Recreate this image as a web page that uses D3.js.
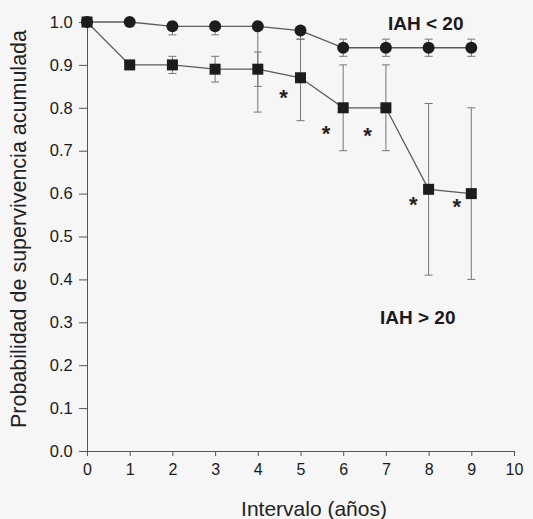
<!DOCTYPE html>
<html>
<head>
<meta charset="utf-8">
<script src="https://cdn.jsdelivr.net/npm/d3@7"></script>
<style>
  body { margin: 0; background: #f6f6f6; }
  svg { display: block; font-family: "Liberation Sans", Arial, sans-serif; }
</style>
</head>
<body>
<div id="chart"></div>
<script>
// intervals (years)
const years = [0, 1, 2, 3, 4, 5, 6, 7, 8, 9];

// IAH < 20 (circles)
const lowVals = [1.0, 1.0, 0.99, 0.99, 0.99, 0.98, 0.94, 0.94, 0.94, 0.94];
const lowLo   = [1.0, 1.0, 0.97, 0.97, 0.79, 0.96, 0.92, 0.92, 0.92, 0.92];
const lowHi   = [1.0, 1.0, 1.0, 1.0, 0.99, 0.98, 0.96, 0.96, 0.96, 0.96];

// IAH > 20 (squares)
const highVals = [1.0, 0.90, 0.90, 0.89, 0.89, 0.87, 0.80, 0.80, 0.61, 0.60];
const highLo   = [1.0, 0.90, 0.88, 0.86, 0.85, 0.77, 0.70, 0.70, 0.41, 0.40];
const highHi   = [1.0, 0.90, 0.92, 0.92, 0.93, 0.96, 0.90, 0.90, 0.81, 0.80];

// significance marks
const starX = [4.6, 5.6, 6.57, 7.64, 8.66];
const starY = [0.834, 0.75, 0.746, 0.584, 0.58];

const xTicks = [0, 1, 2, 3, 4, 5, 6, 7, 8, 9, 10];
const yTicks = [0, 0.1, 0.2, 0.3, 0.4, 0.5, 0.6, 0.7, 0.8, 0.9, 1.0];

const margin = {top: 22, right: 19, bottom: 68, left: 87};
const W = 533, H = 519;
const width = W - margin.left - margin.right;
const height = H - margin.top - margin.bottom;

const svg = d3.select("#chart").append("svg")
    .attr("width", W)
    .attr("height", H);

svg.append("rect").attr("width", W).attr("height", H).attr("fill", "#f6f6f6");

const g = svg.append("g")
    .attr("transform", `translate(${margin.left}, ${margin.top})`);

const x = d3.scaleLinear().domain([0, 10]).range([0, width]);
const y = d3.scaleLinear().domain([0, 1]).range([height, 0]);

// axes
const xAxis = d3.axisBottom(x).tickValues(xTicks).tickFormat(d3.format("d")).tickSize(5).tickSizeOuter(0);
const yAxis = d3.axisLeft(y).tickValues(yTicks).tickFormat(d3.format(".1f")).tickSize(8).tickSizeOuter(0);

const gx = g.append("g")
    .attr("class", "x axis")
    .attr("transform", `translate(0, ${height})`)
    .call(xAxis);
gx.select(".domain").attr("d", `M-8,0.5H${width}`);
gx.selectAll("text").attr("font-size", 16).attr("dy", "1.0em").attr("fill", "#1a1a1a");

const gy = g.append("g")
    .attr("class", "y axis")
    .call(yAxis);
gy.selectAll("text").attr("font-size", 16.5).attr("dx", "-0.2em").attr("fill", "#1a1a1a");

g.selectAll(".axis path, .axis line").attr("stroke", "#555").attr("stroke-width", 1);

// error bars
function errorBars(lo, hi, cls) {
    const data = years.map((d, i) => ({x: d, lo: lo[i], hi: hi[i]})).filter(d => d.hi > d.lo);
    const eb = g.append("g").attr("class", cls)
        .attr("stroke", "#777").attr("stroke-width", 1).attr("fill", "none");
    eb.selectAll("line.v").data(data).enter().append("line")
        .attr("class", "v")
        .attr("x1", d => x(d.x)).attr("x2", d => x(d.x))
        .attr("y1", d => y(d.lo)).attr("y2", d => y(d.hi));
    eb.selectAll("line.lo").data(data).enter().append("line")
        .attr("x1", d => x(d.x) - 4).attr("x2", d => x(d.x) + 4)
        .attr("y1", d => y(d.lo)).attr("y2", d => y(d.lo));
    eb.selectAll("line.hi").data(data).enter().append("line")
        .attr("x1", d => x(d.x) - 4).attr("x2", d => x(d.x) + 4)
        .attr("y1", d => y(d.hi)).attr("y2", d => y(d.hi));
}
errorBars(highLo, highHi, "err-high");
errorBars(lowLo, lowHi, "err-low");

// lines
const line = d3.line().x(d => x(d[0])).y(d => y(d[1]));
[lowVals, highVals].forEach(vals => {
    g.append("path")
        .datum(years.map((d, i) => [d, vals[i]]))
        .attr("d", line)
        .attr("fill", "none")
        .attr("stroke", "#5a5a5a")
        .attr("stroke-width", 1.3);
});

// markers
g.selectAll("rect.sq")
    .data(years.map((d, i) => [d, highVals[i]]))
    .enter().append("rect")
    .attr("class", "sq")
    .attr("x", d => x(d[0]) - 5.5)
    .attr("y", d => y(d[1]) - 5.5)
    .attr("width", 11).attr("height", 11)
    .attr("fill", "#1c1c1c");

g.selectAll("circle.dot")
    .data(years.map((d, i) => [d, lowVals[i]]))
    .enter().append("circle")
    .attr("class", "dot")
    .attr("cx", d => x(d[0]))
    .attr("cy", d => y(d[1]))
    .attr("r", 6)
    .attr("fill", "#1c1c1c");

// asterisks
g.selectAll("text.star")
    .data(starX.map((d, i) => [d, starY[i]]))
    .enter().append("text")
    .attr("class", "star")
    .attr("x", d => x(d[0]))
    .attr("y", d => y(d[1]))
    .attr("dy", 12)
    .attr("text-anchor", "middle")
    .attr("font-size", 22)
    .attr("font-weight", "bold")
    .attr("fill", "#222")
    .text("*");

// group labels
svg.append("text")
    .attr("x", 388).attr("y", 30)
    .attr("font-size", 19).attr("font-weight", "bold").attr("fill", "#1a1a1a")
    .text("IAH < 20");
svg.append("text")
    .attr("x", 380).attr("y", 324)
    .attr("font-size", 19).attr("font-weight", "bold").attr("fill", "#1a1a1a")
    .text("IAH > 20");

// axis titles
svg.append("text")
    .attr("x", 314).attr("y", 516)
    .attr("text-anchor", "middle")
    .attr("font-size", 21).attr("fill", "#222")
    .text("Intervalo (años)");
svg.append("text")
    .attr("transform", "translate(26, 229) rotate(-90)")
    .attr("text-anchor", "middle")
    .attr("font-size", 21.5).attr("fill", "#222")
    .text("Probabilidad de supervivencia acumulada");
</script>
</body>
</html>
